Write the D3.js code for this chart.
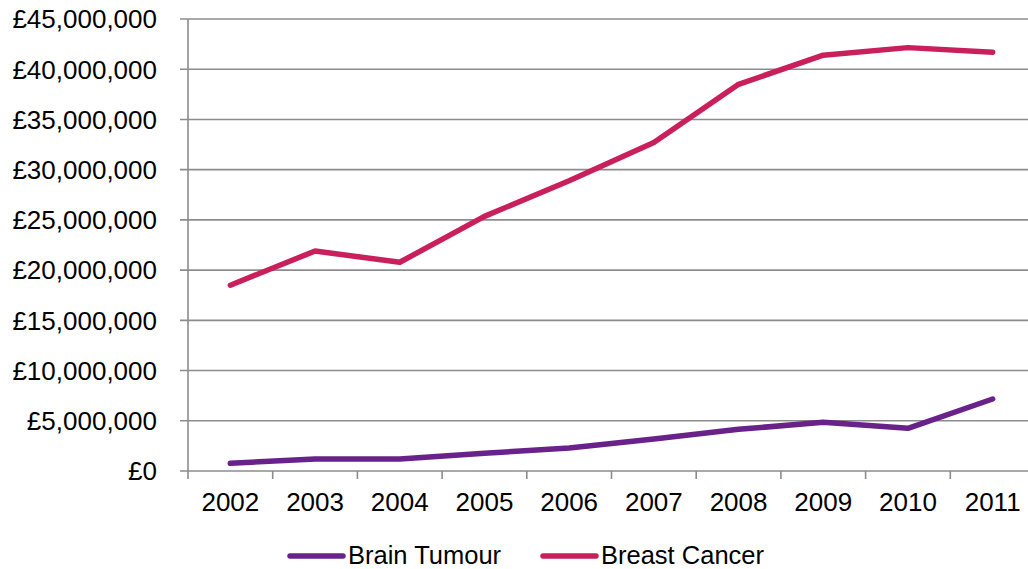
<!DOCTYPE html>
<html><head><meta charset="utf-8">
<script src="https://cdn.jsdelivr.net/npm/d3@7"></script>
<style>body{margin:0;background:#fff}svg{display:block;font-family:"Liberation Sans",Arial,sans-serif}</style>
</head><body><svg id="c" width="1028" height="569"></svg>
<script>
const years = ["2002","2003","2004","2005","2006","2007","2008","2009","2010","2011"];
const brainTumour = [770000,1200000,1200000,1760000,2300000,3180000,4150000,4850000,4250000,7170000];
const breastCancer = [18500000,21900000,20780000,25350000,28900000,32700000,38500000,41400000,42150000,41700000];
const yTicks = [0,5000000,10000000,15000000,20000000,25000000,30000000,35000000,40000000,45000000];
const seriesNames = ["Brain Tumour","Breast Cancer"];
const seriesColors = ["#68228A","#C91F5A"];

const svg = d3.select("#c");
const x = d3.scaleBand().domain(years).range([188,1035]);
const y = d3.scaleLinear().domain([0,45000000]).range([471,19]);
const grid = "#8c8c8c";
const fmt = v => "£" + d3.format(",")(v);

// gridlines
svg.append("g").selectAll("line").data(yTicks).join("line")
  .attr("x1",180).attr("x2",1035).attr("y1",d=>y(d)).attr("y2",d=>y(d))
  .attr("stroke",grid).attr("stroke-width",1.6);
// y labels
svg.append("g").selectAll("text").data(yTicks).join("text")
  .attr("x",157).attr("y",d=>y(d)).attr("dy","0.36em").attr("text-anchor","end")
  .attr("font-size",26).attr("fill","#000").text(fmt);
// left axis
svg.append("line").attr("x1",188).attr("x2",188).attr("y1",y(45000000)).attr("y2",479)
  .attr("stroke",grid).attr("stroke-width",1.6);
// x ticks
const bounds = years.map(d=>x(d)).concat([x.range()[1]]);
svg.append("g").selectAll("line").data(bounds.slice(1)).join("line")
  .attr("x1",d=>d).attr("x2",d=>d).attr("y1",471).attr("y2",479)
  .attr("stroke",grid).attr("stroke-width",1.6);
svg.append("g").selectAll("text").data(years).join("text")
  .attr("x",d=>x(d)+x.bandwidth()/2).attr("y",511).attr("text-anchor","middle")
  .attr("font-size",26).attr("fill","#000").text(d=>d);

const line = d3.line().x((d,i)=>x(years[i])+x.bandwidth()/2).y(d=>y(d));
[brainTumour,breastCancer].forEach((s,i)=>{
  svg.append("path").datum(s).attr("d",line).attr("fill","none")
    .attr("stroke",seriesColors[i]).attr("stroke-width",5.5)
    .attr("stroke-linecap","round").attr("stroke-linejoin","round");
});

// legend
const lg = [{x:290,name:seriesNames[0],c:seriesColors[0]},{x:543,name:seriesNames[1],c:seriesColors[1]}];
lg.forEach(l=>{
  svg.append("line").attr("x1",l.x).attr("x2",l.x+53).attr("y1",556).attr("y2",556)
    .attr("stroke",l.c).attr("stroke-width",5.5).attr("stroke-linecap","round");
  svg.append("text").attr("x",l.x+58).attr("y",563.5)
    .attr("font-size",25.5).attr("fill","#000").text(l.name);
});
</script></body></html>
